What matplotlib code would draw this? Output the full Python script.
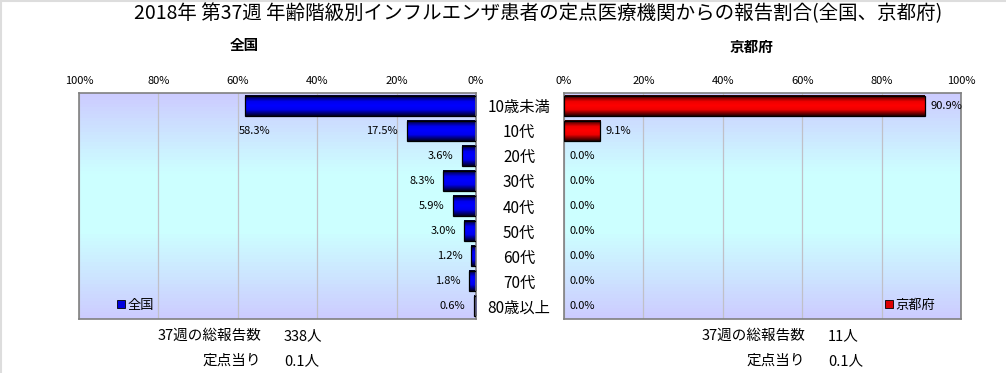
import numpy as np
import matplotlib
matplotlib.use('Agg')
import matplotlib.pyplot as plt
from matplotlib.colors import LinearSegmentedColormap

plt.rcParams['font.family'] = ['Noto Sans CJK JP', 'DejaVu Sans']

# data
age_groups = ['10歳未満', '10代', '20代', '30代', '40代', '50代', '60代', '70代', '80歳以上']
zenkoku = [58.3, 17.5, 3.6, 8.3, 5.9, 3.0, 1.2, 1.8, 0.6]
kyoto = [90.9, 9.1, 0.0, 0.0, 0.0, 0.0, 0.0, 0.0, 0.0]
x_ticks = [0, 20, 40, 60, 80, 100]
title = '2018年 第37週 年齢階級別インフルエンザ患者の定点医療機関からの報告割合(全国、京都府)'
total_zenkoku = '338人'
total_kyoto = '11人'
per_point_zenkoku = '0.1人'
per_point_kyoto = '0.1人'

W, H = 1006, 373
fig = plt.figure(figsize=(W / 100, H / 100), dpi=100)


def px(x, y):
    # pixel position -> figure fraction
    return x / W, 1 - y / H


bg_cmap = LinearSegmentedColormap.from_list(
    'bg', [(0, '#CCCCFF'), (0.35, '#CCFFFF'), (0.62, '#CCFFFF'), (1, '#CCCCFF')])
blue_cmap = LinearSegmentedColormap.from_list(
    'blue', [(0, '#000022'), (0.3, '#0000EE'), (0.5, '#0000FF'), (0.7, '#0000EE'), (1, '#000022')])
red_cmap = LinearSegmentedColormap.from_list(
    'red', [(0, '#220000'), (0.3, '#EE0000'), (0.5, '#FF0000'), (0.7, '#EE0000'), (1, '#220000')])
grad = np.linspace(0, 1, 64).reshape(-1, 1)

bar_h = 0.8
ypos = np.arange(len(age_groups))


def setup_axes(ax, cmap, values, invert):
    ax.imshow(grad, cmap=bg_cmap, extent=(0, 1, 0, 1), transform=ax.transAxes,
              aspect='auto', zorder=0)
    for y, v in zip(ypos, values):
        if v > 0:
            ax.barh(y, v, height=bar_h, color='none', edgecolor='black', linewidth=0.9, zorder=3)
            ax.imshow(grad, cmap=cmap, extent=(0, v, y + bar_h / 2, y - bar_h / 2),
                      aspect='auto', zorder=2)
    ax.set_xlim((100, 0) if invert else (0, 100))
    ax.set_ylim(len(age_groups) - 0.5, -0.5)
    ax.set_xticks(x_ticks)
    ax.set_xticklabels([f'{t}%' for t in x_ticks], fontsize=8)
    ax.xaxis.tick_top()
    ax.tick_params(axis='x', length=0, pad=5)
    ax.grid(axis='x', color='#C0C0C8', linewidth=0.9)
    ax.set_axisbelow(True)
    for s in ax.spines.values():
        s.set_color('#808080')
        s.set_linewidth(1.2)


# left chart (national)
ax1 = fig.add_axes([79 / W, (H - 319) / H, 397 / W, 226 / H])
setup_axes(ax1, blue_cmap, zenkoku, invert=True)
ax1.set_yticks(ypos)
ax1.set_yticklabels(age_groups, fontsize=11, ha='center')
ax1.yaxis.tick_right()
ax1.tick_params(axis='y', length=0, pad=31)
for i, v in enumerate(zenkoku):
    if i == 0:
        # Excel put the first label under its bar
        ax1.annotate(f'{v:.1f}%', (v, i + 1), xytext=(-4.5, 0), textcoords='offset points',
                     ha='left', va='center', fontsize=8)
    else:
        ax1.annotate(f'{v:.1f}%', (v, i), xytext=(-6, 0), textcoords='offset points',
                     ha='right', va='center', fontsize=8)
h1 = plt.Rectangle((0, 0), 1, 1, facecolor='#0000DD', edgecolor='black', linewidth=0.6)
ax1.legend([h1], ['全国'], loc='center left', bbox_to_anchor=(0.095, 0.06), frameon=False,
           handlelength=0.6, handleheight=0.6, handletextpad=0.2, fontsize=9.5,
           borderaxespad=0, borderpad=0)

# right chart (Kyoto)
ax2 = fig.add_axes([564 / W, (H - 319) / H, 397 / W, 226 / H])
setup_axes(ax2, red_cmap, kyoto, invert=False)
ax2.set_yticks([])
for i, v in enumerate(kyoto):
    ax2.annotate(f'{v:.1f}%', (v, i), xytext=(4, 0), textcoords='offset points',
                 ha='left', va='center', fontsize=8)
h2 = plt.Rectangle((0, 0), 1, 1, facecolor='#DD0000', edgecolor='black', linewidth=0.6)
ax2.legend([h2], ['京都府'], loc='center left', bbox_to_anchor=(0.808, 0.06), frameon=False,
           handlelength=0.6, handleheight=0.6, handletextpad=0.2, fontsize=9.5,
           borderaxespad=0, borderpad=0)

# titles
fig.text(*px(538, 14), title, ha='center', va='center', fontsize=14)
fig.text(*px(244, 45), '全国', ha='center', va='center', fontsize=10.5, fontweight='bold')
fig.text(*px(752, 47), '京都府', ha='center', va='center', fontsize=10.5, fontweight='bold')

# bottom summary text
for xr, xv, total, per in [(261, 284, total_zenkoku, per_point_zenkoku),
                           (805, 828, total_kyoto, per_point_kyoto)]:
    fig.text(*px(xr, 336), '37週の総報告数', ha='right', va='center', fontsize=10.5)
    fig.text(*px(xv, 336), total, ha='left', va='center', fontsize=10.5)
    fig.text(*px(xr, 361), '定点当り', ha='right', va='center', fontsize=10.5)
    fig.text(*px(xv, 361), per, ha='left', va='center', fontsize=10.5)

# faint border on top and left edge
fig.add_artist(plt.Line2D([0, 1], [1 - 0.5 / H, 1 - 0.5 / H], color='#DDDDDD', linewidth=1.5))
fig.add_artist(plt.Line2D([0.5 / W, 0.5 / W], [0, 1], color='#DDDDDD', linewidth=1.5))

fig.savefig('out.png', dpi=100)
